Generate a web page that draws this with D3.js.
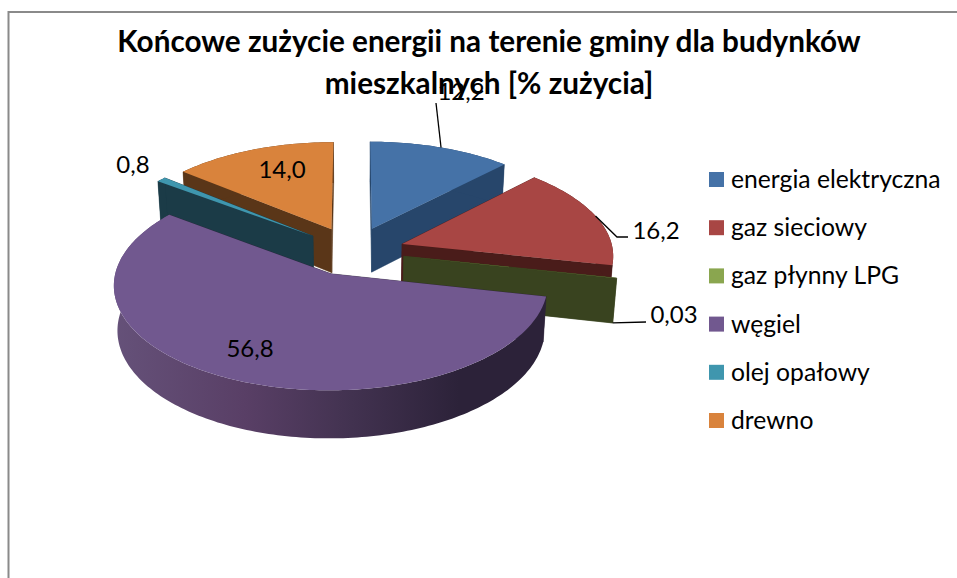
<!DOCTYPE html>
<html>
<head>
<meta charset="utf-8">
<script src="https://cdn.jsdelivr.net/npm/d3@7"></script>
<style>
  html, body { margin: 0; padding: 0; background: #fff; }
  svg { display: block; }
  text { font-family: Lato, "Noto Sans", sans-serif; fill: #000; }
</style>
</head>
<body>
<svg id="chart" width="957" height="578"></svg>
<script>
const titleLines = ["Końcowe zużycie energii na terenie gminy dla budynków", "mieszkalnych [% zużycia]"];
const categories = ["energia elektryczna", "gaz sieciowy", "gaz płynny LPG", "węgiel", "olej opałowy", "drewno"];
const values = [12.2, 16.2, 0.03, 56.8, 0.8, 14.0];
const valueLabels = ["12,2", "16,2", "0,03", "56,8", "0,8", "14,0"];

const topColors = ["#4572a7", "#a84644", "#8aa64f", "#71588f", "#3f96ae", "#d9833c"];
const wallColors = ["#27466b", "#4a1c1a", "#39431f", "#2c2239", "#1b3b47", "#5a3618"];

// where the value labels sit, and the elbow of the leader line if there is one
const labelPos = [
    { x: 461, y: 100, leader: [[436, 103]] },
    { x: 656, y: 239, leader: [[617, 237], [628, 237]] },
    { x: 674, y: 323, leader: [[646, 322]], bottom: true },
    { x: 250, y: 357 },
    { x: 133, y: 173 },
    { x: 282, y: 178 }
];

const svg = d3.select("#chart");

// 3d view of the pie
const view = { cx: 353, cy: 251, rx: 211, ry: 100, persp: 0.1, explode: 0.245, depth: 44, shrink: 0.985 };

function persp(y) {
    return 1 / (1 - view.persp * y);
}

// ground plane (unit circle) to screen, top face or bottom face
function project(x, y, bottom) {
    const s = persp(y);
    let px = view.cx + view.rx * x * s;
    let py = view.cy + view.ry * y * s;
    if (bottom) {
        px = view.cx + (px - view.cx) * view.shrink;
        py = view.cy + (py - view.cy) * view.shrink + view.depth * s;
    }
    return [px, py];
}

const line = d3.line();

const slices = d3.pie().sort(null)(values).map(function(d, i) {
    const mid = (d.startAngle + d.endAngle) / 2;
    const off = [Math.sin(mid) * view.explode, -Math.cos(mid) * view.explode];
    const steps = Math.max(2, Math.ceil((d.endAngle - d.startAngle) / 0.02));
    const rim = d3.range(steps + 1).map(k => {
        const a = d.startAngle + (d.endAngle - d.startAngle) * k / steps;
        return [off[0] + Math.sin(a), off[1] - Math.cos(a)];
    });
    return { index: i, mid: mid, off: off, rim: rim };
});

function flat(points, bottom) {
    return points.map(p => project(p[0], p[1], bottom));
}

// title
svg.append("g").selectAll("text")
    .data(titleLines)
    .enter()
    .append("text")
    .attr("x", 489)
    .attr("y", (d, i) => 52 + i * 41.5)
    .attr("text-anchor", "middle")
    .attr("font-size", "29.7px")
    .attr("font-weight", "bold")
    .text(d => d);

// frame
svg.append("path")
    .attr("d", "M8.5,578V12H957")
    .attr("fill", "none")
    .attr("stroke", "#8a8a8a")
    .attr("stroke-width", 2);

// shading of the big round wall
const defs = svg.append("defs");
const grad = defs.append("linearGradient")
    .attr("id", "roundWall")
    .attr("gradientUnits", "userSpaceOnUse")
    .attr("x1", 115).attr("x2", 545).attr("y1", 0).attr("y2", 0);
[[0, "#655179"], [0.3, "#593f66"], [0.55, "#423250"], [0.8, "#2c2239"], [1, "#2c2239"]].forEach(s => {
    grad.append("stop").attr("offset", s[0]).attr("stop-color", s[1]);
});

// back to front
const pieG = svg.append("g");
slices.slice().sort((a, b) => d3.ascending(a.off[1], b.off[1])).forEach(function(s) {
    const g = pieG.append("g");
    const wall = wallColors[s.index];
    const first = s.rim[0], last = s.rim[s.rim.length - 1];

    [first, last].forEach(p => {
        const face = flat([s.off, p], false).concat(flat([p, s.off], true));
        g.append("path").attr("d", line(face) + "Z").attr("fill", wall).attr("stroke", wall).attr("stroke-width", 0.5);
    });

    const round = flat(s.rim, false).concat(flat(s.rim.slice().reverse(), true));
    const isBig = values[s.index] === d3.max(values);
    g.append("path").attr("d", line(round) + "Z")
        .attr("fill", isBig ? "url(#roundWall)" : wall);

    const top = flat([s.off].concat(s.rim), false);
    g.append("path").attr("d", line(top) + "Z")
        .attr("fill", topColors[s.index]);
});

// leader lines start on the rim, at the middle of the slice
slices.forEach(function(s) {
    const pos = labelPos[s.index];
    if (!pos.leader) return;
    const a = [s.off[0] + Math.sin(s.mid), s.off[1] - Math.cos(s.mid)];
    const start = project(a[0], a[1], pos.bottom);
    svg.append("path")
        .attr("d", line([start].concat(pos.leader)))
        .attr("fill", "none")
        .attr("stroke", "#000")
        .attr("stroke-width", 1.3);
});

// value labels
svg.append("g").selectAll("text")
    .data(valueLabels)
    .enter()
    .append("text")
    .attr("x", (d, i) => labelPos[i].x)
    .attr("y", (d, i) => labelPos[i].y)
    .attr("text-anchor", "middle")
    .attr("font-size", "24px")
    .text(d => d);

// legend
const legendY = d3.scalePoint().domain(categories).range([172, 413]);
const legend = svg.append("g").selectAll("g")
    .data(categories)
    .enter()
    .append("g")
    .attr("transform", d => `translate(709,${legendY(d)})`);

legend.append("rect")
    .attr("width", 15)
    .attr("height", 15)
    .attr("fill", (d, i) => topColors[i]);

legend.append("text")
    .attr("x", 22)
    .attr("y", 16)
    .attr("font-size", "24.7px")
    .text(d => d);
</script>
</body>
</html>
